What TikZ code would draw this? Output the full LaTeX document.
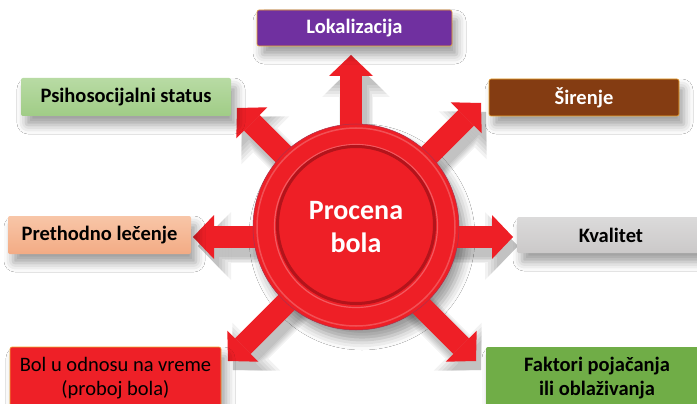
\documentclass[tikz,border=0pt]{standalone}
\usepackage{fontspec}
\setmainfont{Carlito}
\usetikzlibrary{arrows.meta,shadows.blur}
\definecolor{arrred}{HTML}{EE1F26}
\definecolor{ringdark}{HTML}{B3141B}
\definecolor{ringlight}{HTML}{F3595F}
\definecolor{lokcol}{HTML}{7030A0}
\definecolor{sircol}{HTML}{843C12}
\definecolor{psitop}{HTML}{B8DBA4}
\definecolor{psibot}{HTML}{A0CC86}
\definecolor{pretop}{HTML}{F8C6A8}
\definecolor{prebot}{HTML}{F3AB84}
\definecolor{kvatop}{HTML}{DBDADA}
\definecolor{kvabot}{HTML}{CBC9C9}
\definecolor{bolcol}{HTML}{EE2027}
\definecolor{fakcol}{HTML}{70AD47}
\definecolor{edgeor}{HTML}{F0A830}
\definecolor{circedge}{HTML}{A8324E}
\tikzset{
  box/.style={rounded corners=2pt, inner sep=0pt, align=center,
    font=\bfseries\fontsize{20.5}{24}\selectfont,
    blur shadow={shadow xshift=5pt, shadow yshift=-9pt, shadow blur radius=9pt, shadow opacity=38}},
  bigarrow/.style={draw=arrred, line width=22pt,
    -{Triangle[width=44pt,length=21pt,line width=0pt]}},
}
\begin{document}
\begin{tikzpicture}[x=1pt,y=-1pt]
\clip (0,0) rectangle (697,404);
\fill[white] (0,0) rectangle (697,404);

% arrow ends
\coordinate (sT)  at (351,227); \coordinate (tT)  at (351,55);
\coordinate (sTL) at (356,227); \coordinate (tTL) at (237,108);
\coordinate (sTR) at (357,227); \coordinate (tTR) at (481,103);
\coordinate (sL)  at (356,237); \coordinate (tL)  at (193,237);
\coordinate (sR)  at (356,237); \coordinate (tR)  at (513,237);
\coordinate (sBL) at (358,231); \coordinate (tBL) at (228,361);
\coordinate (sBR) at (356,241); \coordinate (tBR) at (476,361);

% circle shadow
\path[blur shadow={shadow xshift=6pt, shadow yshift=-10pt, shadow blur radius=10pt, shadow opacity=40}]
  (356,227) circle[radius=103];

% arrow shadows
\foreach \s/\t in {sT/tT,sTL/tTL,sTR/tTR,sL/tL,sR/tR,sBL/tBL,sBR/tBR}{
  \foreach \k in {0,3,6,9,12}{
    \pgfmathsetmacro\lw{22+\k}
    \pgfmathsetmacro\hw{44+2*\k}
    \pgfmathsetmacro\hl{21+\k}
    \draw[draw=black, opacity=0.05, line width=\lw pt,
      -{Triangle[width=\hw pt,length=\hl pt,line width=0pt]},
      transform canvas={shift={(5,9)}}] (\s) -- (\t);
  }
}

% arrows
\foreach \s/\t in {sT/tT,sTL/tTL,sTR/tTR,sL/tL,sR/tR,sBL/tBL,sBR/tBR}{
  \draw[bigarrow] (\s) -- (\t);
}

% central disc
\node[circle, fill=arrred, draw=circedge, line width=0.5pt, minimum size=206pt, inner sep=0pt,
  text=white, align=center, font=\bfseries\fontsize{28}{33}\selectfont] (c) at (356,227) {Procena\\bola};
\draw[white, opacity=0.22, line width=1.5pt] (356,227) circle[radius=99];
\draw[ringlight, line width=1.2pt] (356,226) circle[radius=81.5];
\draw[ringdark, line width=3pt] (356,225) circle[radius=78.5];

% boxes
\node[box, fill=lokcol, draw=edgeor, line width=0.6pt, text=white, minimum width=195pt, minimum height=36pt] (lok) at (354.5,28) {Lokalizacija};
\node[box, top color=psitop, bottom color=psibot, minimum width=210pt, minimum height=38pt] (psi) at (126,97) {Psihosocijalni status};
\node[box, fill=sircol, draw=edgeor, line width=0.6pt, text=white, minimum width=190pt, minimum height=37pt] (sir) at (584,97.5) {Širenje};
\node[box, top color=pretop, bottom color=prebot, minimum width=183pt, minimum height=38pt] (pre) at (99.5,235) {Prethodno lečenje};
\node[box, top color=kvatop, bottom color=kvabot, minimum width=188pt, minimum height=36pt] (kva) at (611,235) {Kvalitet};
\node[box, fill=bolcol, draw=edgeor, line width=0.6pt, minimum width=211pt, minimum height=62pt,
  font=\mdseries\fontsize{20.5}{24}\selectfont] (bol) at (115.5,378) {Bol u odnosu na vreme\\(proboj bola)};
\node[box, fill=fakcol, minimum width=222pt, minimum height=62pt,
  font=\bfseries\fontsize{20.5}{24}\selectfont] (fak) at (597,378) {Faktori pojačanja\\ili oblaživanja};
\end{tikzpicture}
\end{document}
